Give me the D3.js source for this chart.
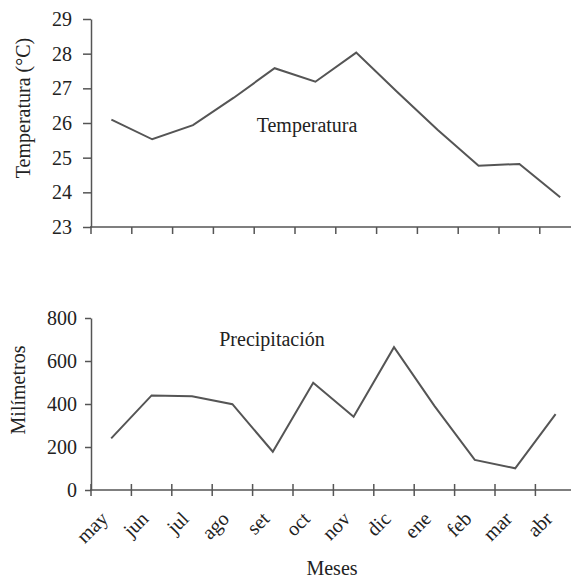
<!DOCTYPE html>
<html>
<head>
<meta charset="utf-8">
<script src="https://cdn.jsdelivr.net/npm/d3@7"></script>
<style>
  body { margin: 0; background: #fff; }
  svg text { font-family: "Liberation Serif", "Times New Roman", Times, serif; fill: #222; }
  .axis path, .axis line { stroke: #555; stroke-width: 1.5; }
  .serie { fill: none; stroke: #555; stroke-width: 2; stroke-linejoin: miter; }
</style>
</head>
<body>
<svg id="chart" width="571" height="578"></svg>
<script>
const meses = ["may", "jun", "jul", "ago", "set", "oct", "nov", "dic", "ene", "feb", "mar", "abr"];
const temperatura = [26.1, 25.53, 25.94, 26.73, 27.58, 27.19, 28.03, 26.9, 25.8, 24.77, 24.82, 23.86];
const precipitacion = [240, 440, 436, 399, 178, 499, 341, 664, 391, 140, 101, 353];
const tempTicks = [23, 24, 25, 26, 27, 28, 29];
const precTicks = [0, 200, 400, 600, 800];

const svg = d3.select("#chart");
const W = 571;
const left = 91;
const serif = "'Liberation Serif', 'Times New Roman', Times, serif";

// top panel: temperature
const xT = d3.scaleBand().domain(meses).range([left, left + 12 * 40.8]);
const yT = d3.scaleLinear().domain([23, 29]).range([227, 19]);

// bottom panel: rainfall
const xP = d3.scaleBand().domain(meses).range([left, left + 12 * 40.4]);
const yP = d3.scaleLinear().domain([0, 800]).range([490, 318]);

function panel(x, y, values, ticks, opts) {
    const g = svg.append("g");

    // y axis
    g.append("g")
        .attr("class", "axis")
        .attr("transform", `translate(${left},0)`)
        .call(d3.axisLeft(y).tickValues(ticks).tickFormat(d3.format("d"))
            .tickSize(opts.ytick).tickSizeOuter(0).tickPadding(opts.ypad))
        .attr("font-family", serif)
        .call(a => a.selectAll("text").attr("font-size", 20));

    // x axis: baseline plus ticks at month boundaries
    const base = y.range()[0];
    const xa = g.append("g").attr("class", "axis");
    xa.append("line")
        .attr("x1", left - 1).attr("x2", W)
        .attr("y1", base).attr("y2", base);
    xa.selectAll(".mt")
        .data(meses)
        .enter().append("line")
        .attr("x1", d => x(d)).attr("x2", d => x(d))
        .attr("y1", base - opts.up).attr("y2", base + opts.down);

    const line = d3.line()
        .x((d, i) => x(meses[i]) + x.bandwidth() / 2)
        .y(d => y(d));
    g.append("path").attr("class", "serie").attr("d", line(values));

    return g;
}

panel(xT, yT, temperatura, tempTicks, { ytick: 8, ypad: 11, up: 0, down: 7 });
const gp = panel(xP, yP, precipitacion, precTicks, { ytick: 6, ypad: 8, up: 6, down: 6 });

// month labels under the rainfall panel
gp.selectAll(".mes")
    .data(meses)
    .enter().append("text")
    .attr("font-size", 20)
    .attr("font-family", serif)
    .attr("text-anchor", "end")
    .attr("transform", d => `translate(${xP(d) + xP.bandwidth() / 2 - 2},520) rotate(-45)`)
    .text(d => d);

function label(t, x, y, rot) {
    svg.append("text")
        .attr("font-size", 20)
        .attr("font-family", serif)
        .attr("text-anchor", "middle")
        .attr("transform", `translate(${x},${y})` + (rot ? " rotate(-90)" : ""))
        .text(t);
}

// series names
label("Temperatura", 307, 132);
label("Precipitación", 272, 346);

// axis titles
label("Temperatura (°C)", 30, 108, true);
label("Milímetros", 25, 390, true);
label("Meses", 332, 575);
</script>
</body>
</html>
